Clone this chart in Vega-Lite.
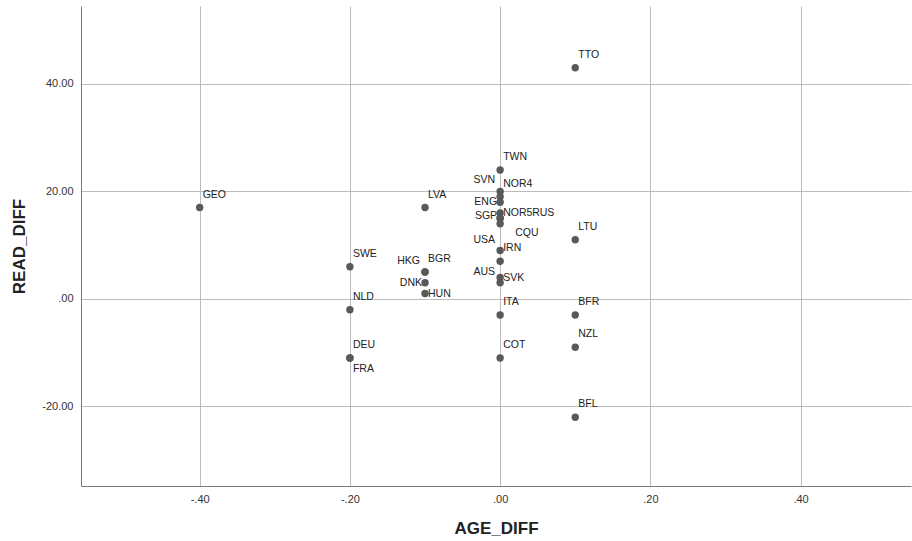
{
  "$schema": "https://vega.github.io/schema/vega-lite/v6.json",
  "width": 830,
  "height": 480,
  "autosize": {"type": "none"},
  "padding": {"left": 81, "top": 6, "right": 1, "bottom": 55},
  "background": "white",
  "config": {
    "view": {"stroke": null},
    "font": "Liberation Sans",
    "axis": {
      "grid": true,
      "gridColor": "#bcbcbc",
      "gridWidth": 1,
      "domainColor": "#7a7a7a",
      "domainWidth": 1,
      "ticks": false,
      "labelFont": "Liberation Sans",
      "labelFontSize": 11,
      "labelColor": "#333333",
      "titleFont": "Liberation Sans",
      "titleFontSize": 17,
      "titleFontWeight": "bold",
      "titleColor": "#222222"
    }
  },
  "data": {
    "values": [
      {"country": "GEO", "AGE_DIFF": -0.4, "READ_DIFF": 17},
      {"country": "LVA", "AGE_DIFF": -0.1, "READ_DIFF": 17},
      {"country": "SWE", "AGE_DIFF": -0.2, "READ_DIFF": 6},
      {"country": "NLD", "AGE_DIFF": -0.2, "READ_DIFF": -2},
      {"country": "DEU", "AGE_DIFF": -0.2, "READ_DIFF": -11},
      {"country": "FRA", "AGE_DIFF": -0.2, "READ_DIFF": -11},
      {"country": "HKG", "AGE_DIFF": -0.1, "READ_DIFF": 5},
      {"country": "BGR", "AGE_DIFF": -0.1, "READ_DIFF": 5},
      {"country": "DNK", "AGE_DIFF": -0.1, "READ_DIFF": 3},
      {"country": "HUN", "AGE_DIFF": -0.1, "READ_DIFF": 1},
      {"country": "TWN", "AGE_DIFF": 0, "READ_DIFF": 24},
      {"country": "SVN", "AGE_DIFF": 0, "READ_DIFF": 20},
      {"country": "NOR4", "AGE_DIFF": 0, "READ_DIFF": 19},
      {"country": "ENG", "AGE_DIFF": 0, "READ_DIFF": 18},
      {"country": "SGP", "AGE_DIFF": 0, "READ_DIFF": 16},
      {"country": "NOR5", "AGE_DIFF": 0, "READ_DIFF": 15},
      {"country": "RUS", "AGE_DIFF": 0, "READ_DIFF": 15},
      {"country": "CQU", "AGE_DIFF": 0, "READ_DIFF": 14},
      {"country": "USA", "AGE_DIFF": 0, "READ_DIFF": 9},
      {"country": "IRN", "AGE_DIFF": 0, "READ_DIFF": 7},
      {"country": "AUS", "AGE_DIFF": 0, "READ_DIFF": 4},
      {"country": "SVK", "AGE_DIFF": 0, "READ_DIFF": 3},
      {"country": "ITA", "AGE_DIFF": 0, "READ_DIFF": -3},
      {"country": "COT", "AGE_DIFF": 0, "READ_DIFF": -11},
      {"country": "TTO", "AGE_DIFF": 0.1, "READ_DIFF": 43},
      {"country": "LTU", "AGE_DIFF": 0.1, "READ_DIFF": 11},
      {"country": "BFR", "AGE_DIFF": 0.1, "READ_DIFF": -3},
      {"country": "NZL", "AGE_DIFF": 0.1, "READ_DIFF": -9},
      {"country": "BFL", "AGE_DIFF": 0.1, "READ_DIFF": -22}
    ]
  },
  "encoding": {
    "x": {
      "field": "AGE_DIFF", "type": "quantitative",
      "scale": {"domain": [-0.558, 0.547], "nice": false, "zero": false},
      "axis": {
        "title": "AGE_DIFF",
        "values": [-0.4, -0.2, 0, 0.2, 0.4],
        "labelExpr": "replace(replace(format(datum.value, '.2f'), '\u2212', '-'), regexp('^(-?)0\\\\.'), '$1.')",
        "labelPadding": 7,
        "titlePadding": 16
      }
    },
    "y": {
      "field": "READ_DIFF", "type": "quantitative",
      "scale": {"domain": [-34.8, 54.5], "nice": false, "zero": false},
      "axis": {
        "title": "READ_DIFF",
        "values": [-20, 0, 20, 40],
        "labelExpr": "replace(replace(format(datum.value, '.2f'), '\u2212', '-'), regexp('^(-?)0\\\\.'), '$1.')",
        "labelPadding": 8,
        "titlePadding": 13
      }
    }
  },
  "layer": [
    {
      "mark": {"type": "point", "filled": true, "size": 55, "color": "#595959", "opacity": 1}
    },
    {
      "transform": [{"filter": {"field": "country", "oneOf": ["GEO", "LVA", "SWE", "NLD", "DEU", "BGR", "TWN", "ITA", "COT", "TTO", "LTU", "BFR", "NZL", "BFL", "NOR4", "IRN"]}}],
      "mark": {"type": "text", "align": "left", "baseline": "middle", "dx": 3, "dy": -13, "fontSize": 10.5, "color": "#222222", "font": "Liberation Sans"},
      "encoding": {"text": {"field": "country"}}
    },
    {
      "transform": [{"filter": {"field": "country", "oneOf": ["FRA"]}}],
      "mark": {"type": "text", "align": "left", "baseline": "middle", "dx": 3, "dy": 11, "fontSize": 10.5, "color": "#222222", "font": "Liberation Sans"},
      "encoding": {"text": {"field": "country"}}
    },
    {
      "transform": [{"filter": {"field": "country", "oneOf": ["HKG", "SVN", "USA"]}}],
      "mark": {"type": "text", "align": "right", "baseline": "middle", "dx": -5, "dy": -11, "fontSize": 10.5, "color": "#222222", "font": "Liberation Sans"},
      "encoding": {"text": {"field": "country"}}
    },
    {
      "transform": [{"filter": {"field": "country", "oneOf": ["DNK", "ENG"]}}],
      "mark": {"type": "text", "align": "right", "baseline": "middle", "dx": -3, "dy": 0, "fontSize": 10.5, "color": "#222222", "font": "Liberation Sans"},
      "encoding": {"text": {"field": "country"}}
    },
    {
      "transform": [{"filter": {"field": "country", "oneOf": ["SGP"]}}],
      "mark": {"type": "text", "align": "right", "baseline": "middle", "dx": -3, "dy": 3, "fontSize": 10.5, "color": "#222222", "font": "Liberation Sans"},
      "encoding": {"text": {"field": "country"}}
    },
    {
      "transform": [{"filter": {"field": "country", "oneOf": ["AUS"]}}],
      "mark": {"type": "text", "align": "right", "baseline": "middle", "dx": -5, "dy": -5, "fontSize": 10.5, "color": "#222222", "font": "Liberation Sans"},
      "encoding": {"text": {"field": "country"}}
    },
    {
      "transform": [{"filter": {"field": "country", "oneOf": ["HUN"]}}],
      "mark": {"type": "text", "align": "left", "baseline": "middle", "dx": 3, "dy": 0, "fontSize": 10.5, "color": "#222222", "font": "Liberation Sans"},
      "encoding": {"text": {"field": "country"}}
    },
    {
      "transform": [{"filter": {"field": "country", "oneOf": ["NOR5", "SVK"]}}],
      "mark": {"type": "text", "align": "left", "baseline": "middle", "dx": 3, "dy": -5, "fontSize": 10.5, "color": "#222222", "font": "Liberation Sans"},
      "encoding": {"text": {"field": "country"}}
    },
    {
      "transform": [{"filter": {"field": "country", "oneOf": ["RUS"]}}],
      "mark": {"type": "text", "align": "left", "baseline": "middle", "dx": 32, "dy": -5, "fontSize": 10.5, "color": "#222222", "font": "Liberation Sans"},
      "encoding": {"text": {"field": "country"}}
    },
    {
      "transform": [{"filter": {"field": "country", "oneOf": ["CQU"]}}],
      "mark": {"type": "text", "align": "left", "baseline": "middle", "dx": 15, "dy": 9, "fontSize": 10.5, "color": "#222222", "font": "Liberation Sans"},
      "encoding": {"text": {"field": "country"}}
    }
  ]
}
